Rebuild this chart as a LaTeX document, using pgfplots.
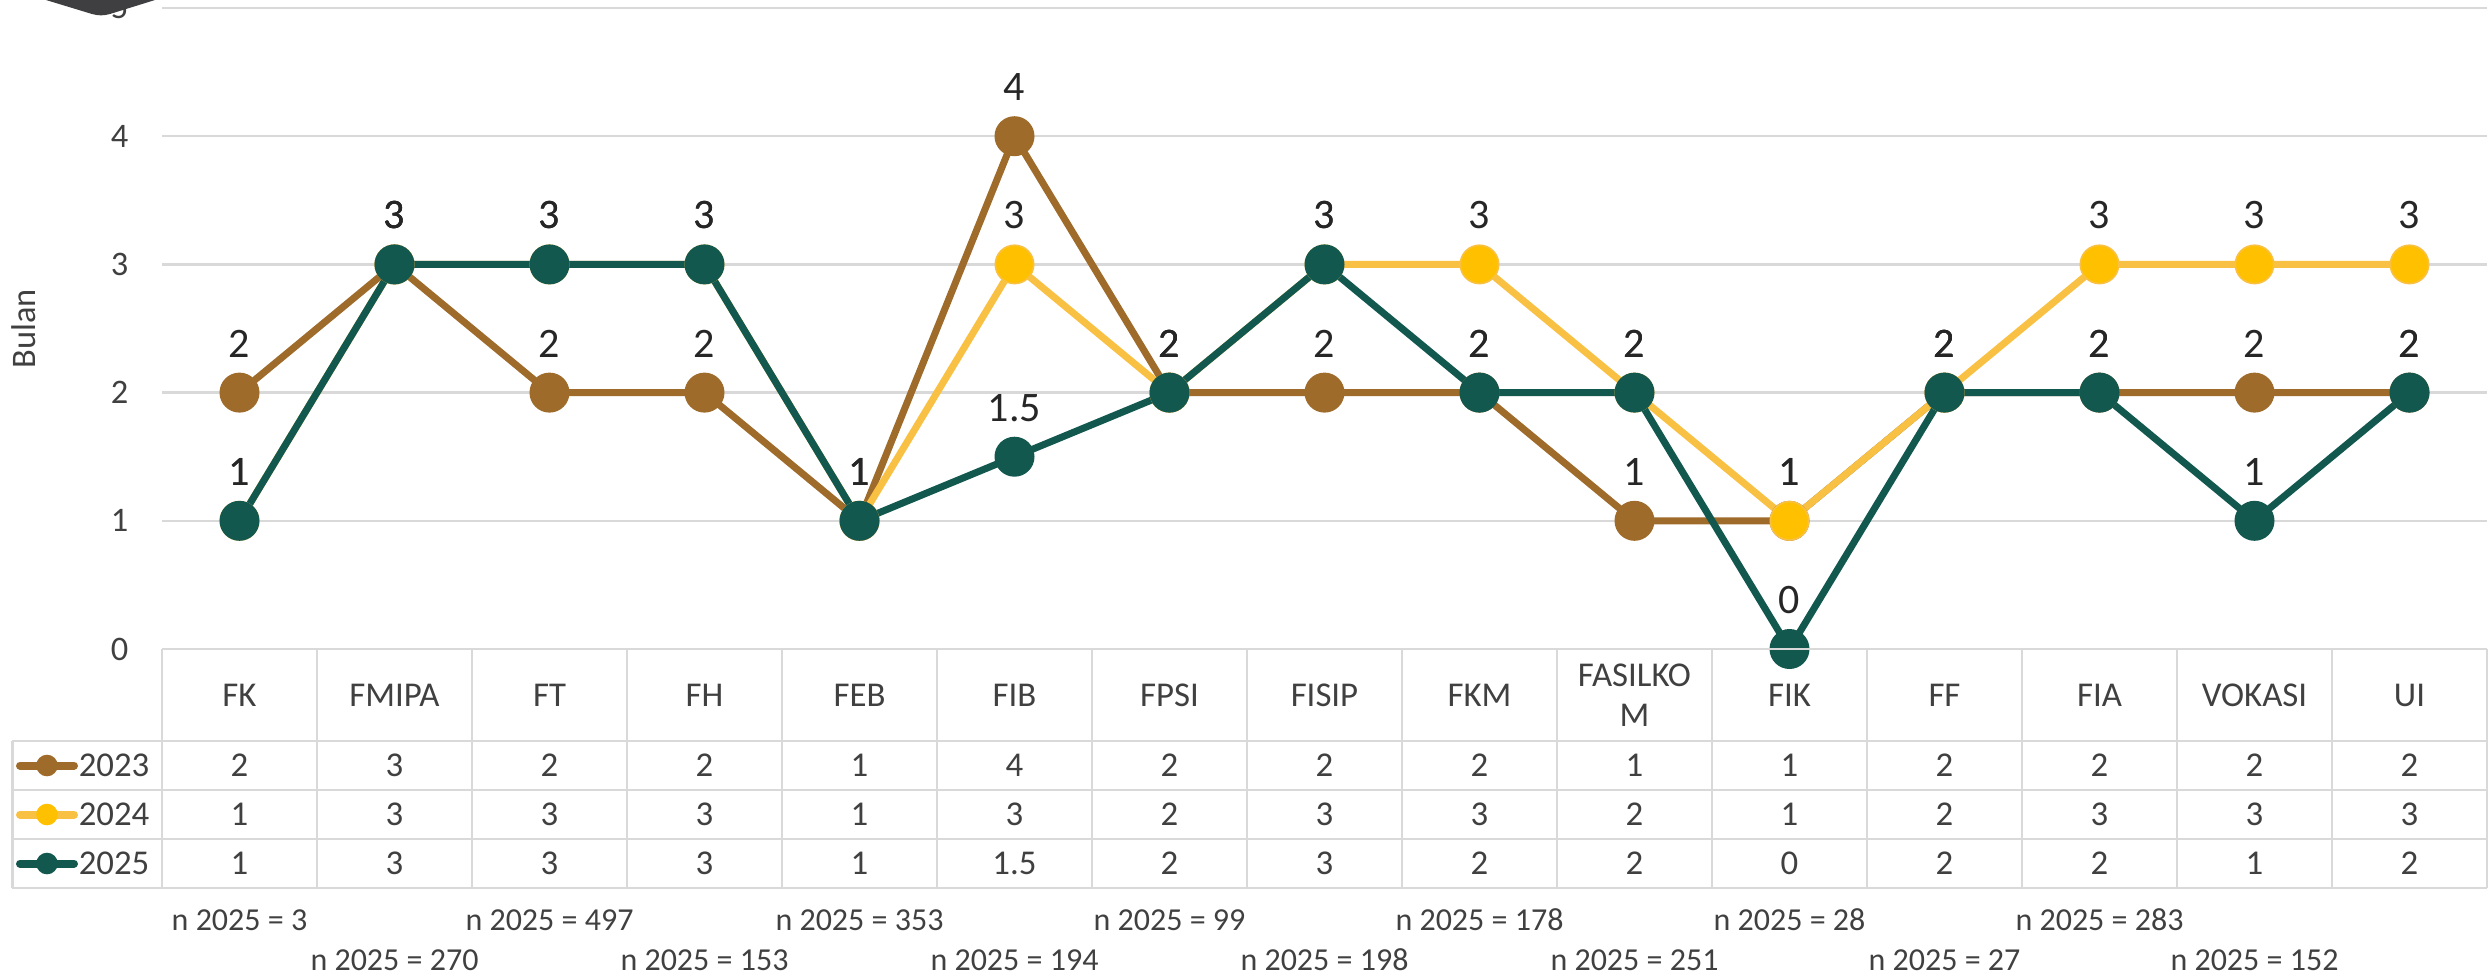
\documentclass[border=0pt]{standalone}
\usepackage{pgfplots}
\usepackage{pgfplotstable}
\pgfplotsset{compat=1.18}
\usepackage{fontspec}
\setmainfont{Carlito}
\definecolor{cBrown}{HTML}{9E6B2B}
\definecolor{cYelL}{HTML}{F9C143}
\definecolor{cYelM}{HTML}{FFC000}
\definecolor{cTeal}{HTML}{12584F}
\definecolor{cGrid}{HTML}{D9D9D9}
\definecolor{cTxt}{HTML}{404040}
\definecolor{cLab}{HTML}{262626}
\definecolor{cShape}{HTML}{3F3F41}

\pgfplotstableread{
x y23 y24 y25
0 2 1 1
1 3 3 3
2 2 3 3
3 2 3 3
4 1 1 1
5 4 3 1.5
6 2 2 2
7 2 3 3
8 2 3 2
9 1 2 2
10 1 1 0
11 2 2 2
12 2 3 2
13 2 3 1
14 2 3 2
}\data

\begin{document}
\begin{tikzpicture}
\useasboundingbox (-40.5pt,-82.25pt) rectangle (581.5pt,162.25pt);
\begin{axis}[
  at={(0,0)}, anchor=south west,
  scale only axis, width=581.25pt, height=160.25pt,
  xmin=-0.5, xmax=14.5, ymin=0, ymax=5,
  xtick=\empty, ytick={0,1,2,3,4,5},
  ymajorgrids, grid style={cGrid, line width=0.6pt},
  axis line style={draw=none},
  major tick length=0pt,
  /pgf/number format/assume math mode=true,
  yticklabel style={font=\fontsize{8.6}{10}\selectfont, text=cTxt, anchor=east, inner sep=0pt, xshift=-8.25pt},
  clip=false,
  nodes near coords,
  every node near coord/.append style={font=\fontsize{10.5}{12}\selectfont, text=cLab, anchor=center, yshift=12.25pt},
  mark size=4.8pt,
]
\addplot[cBrown, line width=1.75pt, mark=*, mark options={fill=cBrown, draw=cBrown, line width=0.4pt}] table[x=x, y=y23] {\data};
\addplot[cYelL, line width=1.75pt, mark=*, mark options={fill=cYelM, draw=cYelL, line width=0.4pt}] table[x=x, y=y24] {\data};
\addplot[cTeal, line width=1.75pt, mark=*, mark options={fill=cTeal, draw=cTeal, line width=0.4pt}] table[x=x, y=y25] {\data};
\end{axis}

% y label
\node[rotate=90, font=\fontsize{8.6}{10}\selectfont, text=cTxt] at (-34.5pt,80pt) {Bulan};

% corner shape
\fill[cShape] (-29pt,170pt) -- (-29pt,162.25pt) -- (-17.5pt,158.75pt) to[out=-15,in=195] (-13pt,158.75pt) -- (-1.75pt,162.25pt) -- (-1.75pt,170pt) -- cycle;

% table grid
\begin{scope}[cGrid, line width=0.6pt]
  \draw (0pt,0pt) -- (581.25pt,0pt);
  \foreach \y in {-23,-35.25,-47.5,-59.75} { \draw (-37.4pt,\y pt) -- (581.25pt,\y pt); }
  \foreach \k in {0,...,15} { \draw (38.75*\k pt,0pt) -- (38.75*\k pt,-59.75pt); }
  \draw (-37.4pt,-23pt) -- (-37.4pt,-59.75pt);
\end{scope}

% headers
\foreach \name [count=\i from 0] in {FK,FMIPA,FT,FH,FEB,FIB,FPSI,FISIP,FKM,{FASILKO\\M},FIK,FF,FIA,VOKASI,UI} {
  \node[font=\fontsize{8.7}{10}\selectfont, text=cTxt, align=center, inner sep=0pt] at (19.375pt+38.75pt*\i,-11.625pt) {\name};
}

% values
\foreach \i in {0,...,14} {
  \pgfplotstablegetelem{\i}{y23}\of\data
  \node[font=\fontsize{8.7}{10}\selectfont, text=cTxt] at (19.375pt+38.75pt*\i,-29.125pt) {\pgfplotsretval};
  \pgfplotstablegetelem{\i}{y24}\of\data
  \node[font=\fontsize{8.7}{10}\selectfont, text=cTxt] at (19.375pt+38.75pt*\i,-41.375pt) {\pgfplotsretval};
  \pgfplotstablegetelem{\i}{y25}\of\data
  \node[font=\fontsize{8.7}{10}\selectfont, text=cTxt] at (19.375pt+38.75pt*\i,-53.625pt) {\pgfplotsretval};
}

% legend keys
\foreach \c/\m/\y/\lab in {cBrown/cBrown/-29.125/2023, cYelL/cYelM/-41.375/2024, cTeal/cTeal/-53.625/2025} {
  \draw[\c, line width=2pt, line cap=round] (-35.5pt,\y pt) -- (-22pt,\y pt);
  \fill[\m] (-28.75pt,\y pt) circle (2.7pt);
  \node[anchor=west, inner sep=0pt, font=\fontsize{8.7}{10}\selectfont, text=cTxt] at (-21pt,\y pt) {\lab};
}

% n labels
\foreach \n [count=\i from 0] in {3,270,497,153,353,194,99,198,178,251,28,27,283,152} {
  \pgfmathsetmacro\yy{mod(\i,2)==0 ? -67.75 : -77.75}
  \node[font=\fontsize{8}{10}\selectfont, text=cTxt] at (19.375pt+38.75pt*\i,\yy pt) {n 2025 = \n};
}
\end{tikzpicture}
\end{document}
